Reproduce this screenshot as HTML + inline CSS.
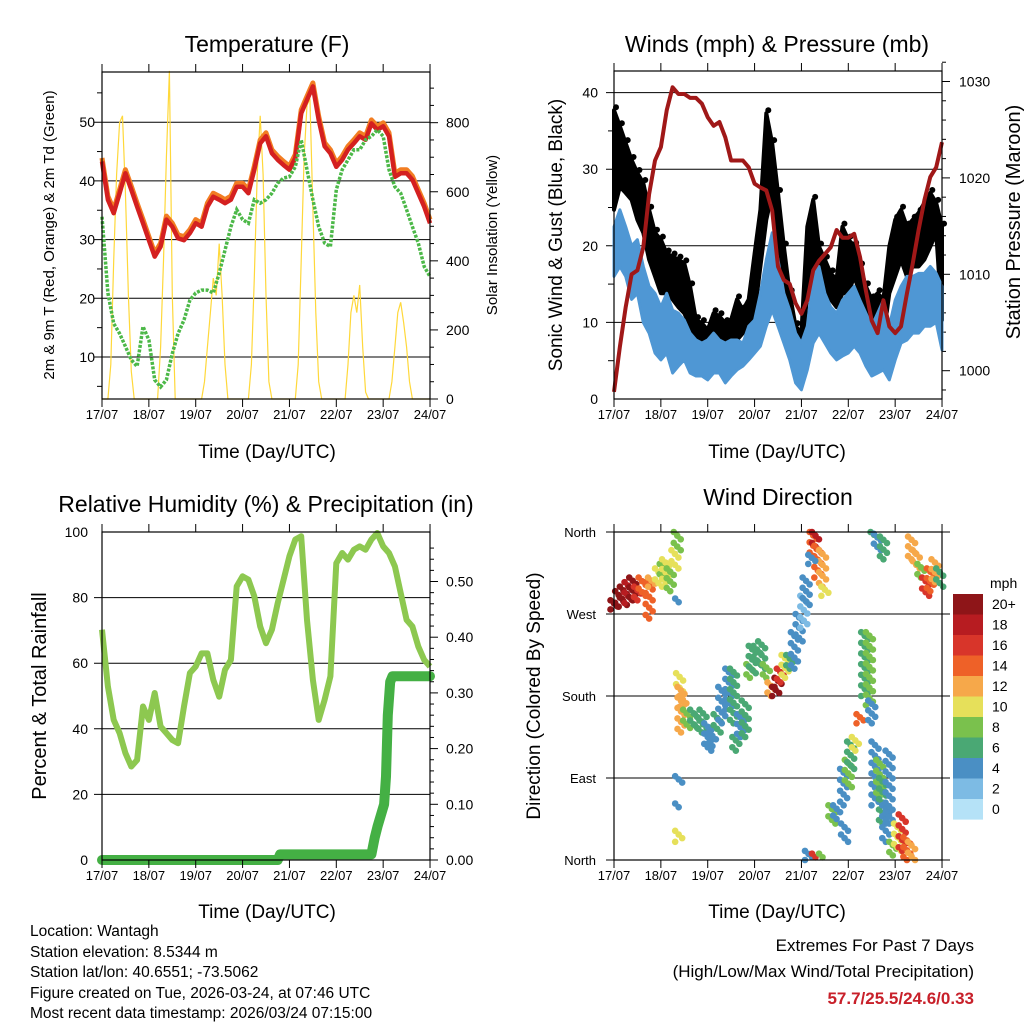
<!DOCTYPE html>
<html><head><meta charset="utf-8"><style>
html,body{margin:0;padding:0;background:#fff;}
svg{display:block;font-family:"Liberation Sans",sans-serif;}
</style></head><body>
<svg id="chart" width="1024" height="1024" viewBox="0 0 1024 1024" xmlns="http://www.w3.org/2000/svg">
<rect width="1024" height="1024" fill="#fff"/>
<g id="p1"></g>
<g id="p2"></g>
<g id="p3"></g>
<g id="p4"></g>
<text x="267" y="52" font-size="23" text-anchor="middle">Temperature (F)</text>
<text x="777" y="52" font-size="23" text-anchor="middle">Winds (mph) &amp; Pressure (mb)</text>
<text x="266" y="512" font-size="23" text-anchor="middle">Relative Humidity (%) &amp; Precipitation (in)</text>
<text x="778" y="505" font-size="23" text-anchor="middle">Wind Direction</text>
<text x="267" y="458" font-size="19" text-anchor="middle">Time (Day/UTC)</text>
<text x="777" y="458" font-size="19" text-anchor="middle">Time (Day/UTC)</text>
<text x="267" y="918" font-size="19" text-anchor="middle">Time (Day/UTC)</text>
<text x="777" y="918" font-size="19" text-anchor="middle">Time (Day/UTC)</text>
<text transform="translate(54,235) rotate(-90)" font-size="15" text-anchor="middle">2m &amp; 9m T (Red, Orange) &amp; 2m Td (Green)</text>
<text transform="translate(497,235) rotate(-90)" font-size="15" text-anchor="middle">Solar Insolation (Yellow)</text>
<text transform="translate(562,235) rotate(-90)" font-size="19" text-anchor="middle">Sonic Wind &amp; Gust (Blue, Black)</text>
<text transform="translate(1020,222) rotate(-90)" font-size="20" text-anchor="middle">Station Pressure (Maroon)</text>
<text transform="translate(46,696) rotate(-90)" font-size="20" text-anchor="middle">Percent &amp; Total Rainfall</text>
<text transform="translate(540,696) rotate(-90)" font-size="19" text-anchor="middle">Direction (Colored By Speed)</text>
<g font-size="15.5">
<text x="30" y="936">Location: Wantagh</text>
<text x="30" y="957">Station elevation: 8.5344 m</text>
<text x="30" y="977">Station lat/lon: 40.6551; -73.5062</text>
<text x="30" y="998">Figure created on Tue, 2026-03-24, at 07:46 UTC</text>
<text x="30" y="1018">Most recent data timestamp: 2026/03/24 07:15:00</text>
</g>
<text x="974" y="951" font-size="17" text-anchor="end">Extremes For Past 7 Days</text>
<text x="974" y="977" font-size="17" text-anchor="end">(High/Low/Max Wind/Total Precipitation)</text>
<text x="974" y="1004" font-size="17" font-weight="bold" fill="#c8202a" text-anchor="end">57.7/25.5/24.6/0.33</text>
</svg>
<script>
// ---- data (3-hourly, starting 17/07 00 UTC) ----
const dayLabels=["17/07","18/07","19/07","20/07","21/07","22/07","23/07","24/07"];
const tempF=[43.3,36.8,34.5,37.9,41.3,38.5,35.6,32.8,29.9,27.1,28.8,33.4,32.2,30.2,29.9,31.1,32.8,32.2,35.6,37.3,36.8,36.2,36.8,39,39,37.9,41.9,46.4,47.6,44.7,43.6,42.7,41.9,43.9,51.5,53.8,56.1,50.4,45.9,44.7,42.4,43.6,45.3,46.4,47.6,47,49.8,48.7,49.3,47.6,40.7,41.3,41.3,40.2,37.9,35.6,32.8];
const dewF=[33.9,20.9,15.7,14,11.8,9.5,8.4,15.2,12.9,6.1,4.9,6.1,10.6,14,16.3,19.7,20.9,21.4,21.4,20.9,24.3,28.2,32.2,35.1,33.4,32.8,36.8,36.2,36.8,37.9,39.6,40.5,40.7,42.4,47,41.9,36.8,32.2,29.4,28.8,38.5,41.9,43.6,45.3,45.3,47,47.6,48.7,47.6,41.9,39,37.9,35.1,32.2,29.4,25.4,23.7];
// solar insolation, 1.5-hourly
const solar=[0,0,0,100,400,650,800,820,600,300,80,0,0,0,0,0,
0,0,0,0,150,400,700,950,300,0,0,0,0,0,0,0,
0,0,0,50,150,250,350,300,450,300,100,0,0,0,0,0,
0,0,0,100,350,650,820,650,300,50,0,0,0,0,0,0,
0,0,0,100,400,700,850,870,550,250,50,0,0,0,0,0,
0,0,0,0,100,250,300,250,330,150,20,0,0,0,0,0,
0,0,0,50,150,250,280,220,150,50,0,0,0,0,0,0,0];
const pressMb=[997.8,1002.5,1006.6,1010,1010.4,1012.8,1018.3,1021.8,1023.2,1027,1029.4,1028.7,1028.7,1028.3,1028.3,1027.7,1026.3,1025.4,1025.8,1024.2,1021.8,1021.8,1021.8,1021.1,1019.4,1019,1018.7,1016.6,1010.8,1009.4,1009,1007,1005.9,1007.3,1010.4,1011.4,1012.1,1012.8,1014.6,1013.8,1013.8,1014.2,1011.8,1008.3,1005.2,1003.9,1007.3,1004.6,1003.9,1004.6,1008,1011.1,1014.6,1017.7,1020.1,1021.1,1023.7];
const windLo=[16,17.3,16,13,13.8,10,8.6,6,5.1,6,3.4,4.3,5.1,3.4,3,3,2.5,3.4,3.4,2.1,3,3.8,4.3,5.1,6,6.9,9.5,11.6,9.5,7.3,5.1,2.1,1.2,3.8,7.3,8.6,7.3,6,5.1,5.6,6,6.9,6,4.3,3,3.4,3.8,2.5,5.1,7.3,7.7,8.6,8.6,9.5,9.5,10,6.4];
const windHi=[22.5,24.7,22.5,20,20.8,17.3,14.7,13.8,12,13.8,11.6,11.2,10.3,8.6,7.7,7.3,7.7,8.6,7.7,7.3,7.7,7.7,7.3,9.5,10.3,13.8,18.2,21.7,18.2,13.8,11.6,8.6,7.3,9.5,16,17.3,13.8,12,11.2,12.9,13.8,14.7,12.9,11.2,9.5,11.2,12.9,9.5,12.9,14.7,16,16,16.4,16.4,17.3,16.4,14.7];
const gustLo=[24.7,27.7,26.9,26,23.4,21.7,18.2,16,13.8,13.8,13,12,11.2,9.5,7.7,6.9,6.4,7.3,7.3,6.9,7.3,7.7,8.6,9.9,11.2,17.3,23.4,26.9,19.9,13.8,8.6,5.1,5.1,13.8,14.7,13.8,13.8,13,12,13.8,13.8,16,13.8,9.5,8.1,8.6,8.1,13.8,16,18.2,16,17.3,17.3,18.2,19.9,21.7,10.3];
const gustHi=[37.7,35.6,33.4,31.2,29.5,28.2,24.7,21.7,20.8,19,18.6,18.2,17.7,14.7,10.3,9.9,9,11.2,10.8,9.9,10.3,13,11.6,13,19,24.7,37.3,33.4,26.9,19.9,13.8,9.5,8.6,22.5,26,19.9,18.2,16.4,15.6,22.5,20.8,20,17.3,14.7,13,13.8,13,19.9,23.4,24.7,22.5,23.4,24.3,25.6,26.9,25.6,22.5];
const rhPct=[70.2,52.9,42.7,38.7,32.6,28.5,30.5,46.8,42.7,50.9,40.7,38.7,36.6,35.6,46.8,57,59,63,63,54.9,49.8,58,61,83.4,86.5,85.5,80.4,71.2,66.1,70.2,78.3,85.5,92.6,97.7,98.7,73.2,54.9,42.7,48.8,56,90.5,93.6,91.6,94.6,95.6,94.6,97.7,99.7,95.6,93.6,89.5,81.4,73.2,71.2,65.1,61,59];
const precipDay=[0,3.75,3.8,5.75,5.82,5.88,5.95,6.02,6.06,6.1,6.15,6.2,7.0];
const precipIn=[0,0,0.01,0.01,0.04,0.06,0.08,0.10,0.15,0.26,0.32,0.33,0.33];
// wind direction segments
const wdDay=[0,0.1,0.2,0.3,0.4,0.5,0.6,0.75,0.8,0.95,1.05,1.1,1.2,1.3,1.35,1.38,1.4,1.43,1.47,1.55,1.38,1.38,1.38,1.7,1.8,1.9,2.0,2.1,2.2,2.3,2.45,2.55,2.6,2.7,2.8,2.9,2.95,3.05,3.15,3.25,3.35,3.45,3.5,3.55,3.65,3.75,3.85,3.95,4.05,4.1,4.25,4.3,4.35,4.45,4.5,4.22,4.15,4.3,4.45,4.65,4.75,4.9,4.92,5.0,5.05,5.15,5.25,5.35,5.45,5.5,5.57,5.67,5.73,5.8,5.87,5.95,6.05,6.15,6.25,6.35,5.55,5.62,5.75,6.35,6.45,6.55,6.65,6.75,6.85,6.95];
const wdLo=[275,278,280,282,285,285,290,265,300,300,310,305,295,320,340,283,185,140,160,145,85,58,20,145,140,145,120,125,140,150,165,150,120,135,135,200,205,215,210,200,180,180,190,195,200,210,210,240,255,280,330,340,310,300,290,325,0,3,3,40,45,60,20,80,100,120,150,180,170,150,60,70,40,20,40,5,10,10,0,0,354,340,330,330,320,310,290,295,305,300];
const wdHi=[285,295,300,305,310,300,310,305,310,320,325,330,320,340,360,287,205,190,180,165,92,62,32,165,160,165,150,140,160,190,210,210,135,160,175,215,235,235,240,215,195,190,200,210,225,225,250,270,290,310,360,360,345,340,300,335,10,7,7,60,60,100,40,110,130,135,160,250,250,175,130,110,90,60,120,20,40,50,25,20,360,358,355,355,340,325,310,320,330,320];
const wdSpd=[20,20,20,18,20,16,14,13,12,9,7,10,7,10,8,4,10,11,12,8,4,4,9,6,6,5,4,4,5,4,4,5,6,4,5,8,6,6,6,8,12,20,20,16,10,6,4,3,2,4,14,18,13,11,10,3,4,16,8,7,4,4,4,8,6,10,14,6,7,4,4,8,5,4,3,7,10,15,14,12,6,4,6,12,11,8,16,14,12,6];
const cbLabels=["20+","18","16","14","12","10","8","6","4","2","0"];
const cbColors=["#8e1518","#b71c21","#d8352a","#ee6128","#f6a84a","#e6e05a","#7ac14d","#4aa874","#4a8fc4","#7dbbe4","#b5e2f7"];

const NS="http://www.w3.org/2000/svg";
function mk(tag,attrs,parent){const e=document.createElementNS(NS,tag);for(const k in attrs)e.setAttribute(k,attrs[k]);parent.appendChild(e);return e;}
const DX=46.86;
const xs1=d=>102+d*DX, xs2=d=>614+d*DX;
const yT=v=>357-(v-10)*5.87, ySol=v=>399-v*0.3454;
const yW=v=>399-v*7.66, yP=p=>370.7-(p-1000)*9.64;
const yRH=v=>860-v*3.28, yPr=v=>860-v*557;
const yDir=v=>860-v*0.9111;
const spdColor=s=>cbColors[Math.max(0,10-Math.min(10,Math.round(s/2)))];

function frame(g,x0,y0,x1,y1,pre){
  for(let i=0;i<8;i++){
    const x=x0+i*DX;
    const t1=mk('line',{x1:x,x2:x,y1:y0-8,y2:y0,stroke:'#000','stroke-width':1},g);
    
    
    const t2=mk('line',{x1:x,x2:x,y1:y1,y2:y1+8,stroke:'#000','stroke-width':1},g);
    
    
    const lb=mk('text',{x:x,y:y1+20,'font-size':13,'text-anchor':'middle'},g);
    lb.textContent=dayLabels[i];
    
    
  }
}
function box(g,x0,y0,x1,y1,pre){
  const r=mk('rect',{x:x0,y:y0,width:x1-x0,height:y1-y0,fill:'none',stroke:'#000','stroke-width':1.2},g);
  
  
}
function grid(g,xa,xb,y,pre){
  const l=mk('line',{x1:xa,x2:xb,y1:y,y2:y,stroke:'#000','stroke-width':1},g);
  
  
}
function label(g,x,y,txt,anchor,size,pre){
  const t=mk('text',{x:x,y:y+5,'font-size':size||14,'text-anchor':anchor},g);
  t.textContent=txt;
  
  
}
function tick(g,x1,x2,y,pre){
  const t=mk('line',{x1:x1,x2:x2,y1:y,y2:y,stroke:'#000','stroke-width':1},g);
  
  
}
function pathFrom(arr,fx,fy){return arr.map((v,i)=>(i?'L':'M')+fx(i).toFixed(1)+','+fy(v).toFixed(1)).join('');}

// ---------- Panel 1 ----------
const g1=document.getElementById('p1');
for(let v=10;v<=50;v+=10){grid(g1,94,430,yT(v),'temp');label(g1,95,yT(v),String(v),'end',14,'temp-y');}
for(let v=5;v<=55;v+=10)tick(g1,97,102,yT(v),'temp-minor');
for(let v=0;v<=900;v+=50){tick(g1,430,v%200===0?438:434,ySol(v),'solar');}
for(let v=0;v<=800;v+=200)label(g1,446,ySol(v),String(v),'start',14,'solar-y');
const sol=mk('path',{d:pathFrom(solar,i=>xs1(i*0.0625),ySol),fill:'none',stroke:'#ffd83a','stroke-width':1.2},g1);


const tOr=mk('path',{d:pathFrom(tempF,i=>xs1(i*0.125),v=>yT(v+0.6)),fill:'none',stroke:'#f27d22','stroke-width':5,'stroke-linejoin':'round'},g1);


const tRd=mk('path',{d:pathFrom(tempF,i=>xs1(i*0.125),yT),fill:'none',stroke:'#d42020','stroke-width':4.5,'stroke-linejoin':'round'},g1);


const dw=mk('path',{d:pathFrom(dewF,i=>xs1(i*0.125),yT),fill:'none',stroke:'#4cb848','stroke-width':3.5,'stroke-dasharray':'3 1.5'},g1);


box(g1,102,72,430,399,'temp');
frame(g1,102,72,430,399,'temp');

// ---------- Panel 2 ----------
const g2=document.getElementById('p2');
for(let v=10;v<=40;v+=10)grid(g2,606,942,yW(v),'wind');
for(let v=0;v<=40;v+=10)label(g2,598,yW(v),String(v),'end',14,'wind-y');
for(let v=5;v<=35;v+=10)tick(g2,608,614,yW(v),'wind-minor');
for(let p=998;p<=1032;p+=2)tick(g2,942,p%10===0?950:946,yP(p),'pressure');
for(let p=1000;p<=1030;p+=10)label(g2,959,yP(p),String(p),'start',14,'pressure-y');
const gustPts=gustHi.map((v,i)=>xs2(i*0.125).toFixed(1)+','+yW(v).toFixed(1)).concat(gustLo.map((v,i)=>xs2(i*0.125).toFixed(1)+','+yW(v).toFixed(1)).reverse());
const gp=mk('polygon',{points:gustPts.join(' '),fill:'#000',stroke:'#000','stroke-width':4,'stroke-linejoin':'round'},g2);


gustHi.forEach((v,i)=>{
  const c=mk('circle',{cx:xs2(i*0.125)+2,cy:yW(v)-3,r:3,fill:'#000'},g2);
  
  
});
const windPts=windHi.map((v,i)=>xs2(i*0.125).toFixed(1)+','+yW(v).toFixed(1)).concat(windLo.map((v,i)=>xs2(i*0.125).toFixed(1)+','+yW(v).toFixed(1)).reverse());
const wp=mk('polygon',{points:windPts.join(' '),fill:'#4f97d4',stroke:'#4f97d4','stroke-width':3,'stroke-linejoin':'round'},g2);


const pr=mk('path',{d:pathFrom(pressMb,i=>xs2(i*0.125),yP),fill:'none',stroke:'#a01818','stroke-width':4,'stroke-linejoin':'round'},g2);


box(g2,614,71,942,399,'wind');
frame(g2,614,71,942,399,'wind');

// ---------- Panel 3 ----------
const g3=document.getElementById('p3');
for(let v=20;v<=80;v+=20)grid(g3,94,430,yRH(v),'rh');
for(let v=0;v<=100;v+=20)label(g3,88,yRH(v),String(v),'end',14,'rh-y');
for(let v=0;v<=0.58;v+=0.02){const r=Math.round(v*100);tick(g3,430,r%10===0?438:434,yPr(r/100),'precip');}
for(let v=0;v<=5;v++)label(g3,446,yPr(v/10),(v/10).toFixed(2),'start',14,'precip-y');
const rh=mk('path',{d:pathFrom(rhPct,i=>xs1(i*0.125),yRH),fill:'none',stroke:'#8dc850','stroke-width':6,'stroke-linejoin':'round'},g3);


const pc=mk('path',{d:precipIn.map((v,i)=>(i?'L':'M')+xs1(precipDay[i]).toFixed(1)+','+yPr(v).toFixed(1)).join(''),fill:'none',stroke:'#44b044','stroke-width':10,'stroke-linecap':'round','stroke-linejoin':'round'},g3);


box(g3,102,532,430,860,'rh');
frame(g3,102,532,430,860,'rh');

// ---------- Panel 4 ----------
const g4=document.getElementById('p4');
const dirNames=["North","East","South","West","North"];
for(let k=0;k<=4;k++){grid(g4,606,950,yDir(k*90),'direction');label(g4,596,yDir(k*90),dirNames[k],'end',13,'direction-y');}
wdDay.forEach((d,i)=>{
  const y1=yDir(wdHi[i]),y2=yDir(wdLo[i]);
  const n=Math.max(1,Math.round((y2-y1)/3.5));
  for(let k=0;k<=n;k++){
    const c=mk('circle',{cx:xs2(d)+((k%3)-1)*3.5,cy:y1+(y2-y1)*k/n,r:3.3,fill:spdColor(wdSpd[i])},g4);
    
    
  }
});
box(g4,614,532,942,860,'direction');
frame(g4,614,532,942,860,'direction');
const cbt=mk('text',{x:990,y:588,'font-size':14},g4);
cbt.textContent='mph';


cbColors.forEach((c,i)=>{
  const r=mk('rect',{x:953,y:594+i*20.5,width:30,height:20.6,fill:c},g4);
  
  
  const t=mk('text',{x:992,y:609+i*20.5,'font-size':14},g4);
  t.textContent=cbLabels[i];
  
  
});
</script>
</body></html>
